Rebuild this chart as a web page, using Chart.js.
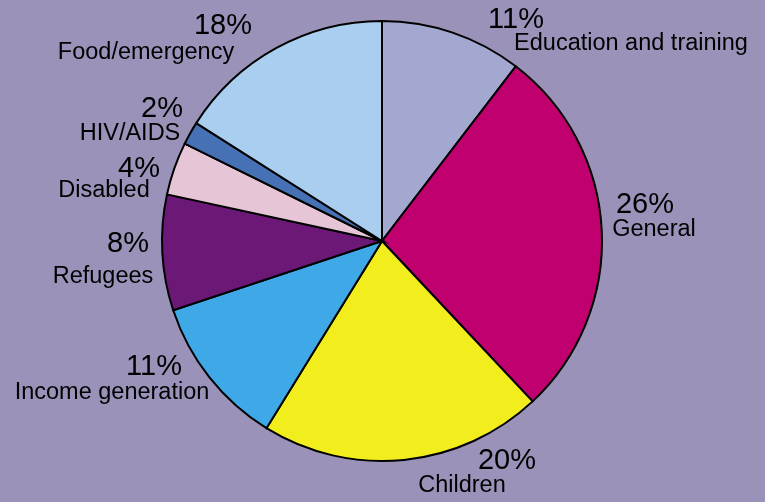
<!DOCTYPE html>
<html>
<head>
<meta charset="utf-8">
<script src="https://cdn.jsdelivr.net/npm/chart.js@4"></script>
<style>
  html, body { margin: 0; padding: 0; background: #9a92b9; }
  #wrap { width: 765px; height: 502px; position: relative; }
</style>
</head>
<body>
<div id="wrap"><canvas id="c" width="765" height="502"></canvas></div>
<script>
// Categories (clockwise from 12 o'clock)
const categories = ["Education and training", "General", "Children", "Income generation",
                    "Refugees", "Disabled", "HIV/AIDS", "Food/emergency"];
// Slice shares as drawn in the picture
const shares = [10.4, 27.6, 20.8, 11.1, 8.5, 3.9, 1.7, 16.0];
// Percentage labels as printed
const percentLabels = ["11%", "26%", "20%", "11%", "8%", "4%", "2%", "18%"];

const sliceColors = ["#a3a8d0", "#c0006f", "#f2ee1e", "#3fa8e6",
                     "#6c1876", "#e6c5d6", "#4671b5", "#a9cef0"];

// label anchor points (centres): [pctX, pctY(baseline), nameX, nameY(baseline)]
const labelPos = [
  [516, 28, 631, 50],
  [645, 213, 654, 236],
  [507, 469, 462, 492],
  [154, 375, 112, 399],
  [128, 252, 103, 283],
  [139, 177, 104, 197],
  [162, 117, 130, 140],
  [223, 34, 146, 59]
];

const labelPlugin = {
  id: 'sliceLabels',
  afterDraw(chart) {
    const ctx = chart.ctx;
    ctx.save();
    ctx.fillStyle = '#000';
    ctx.textAlign = 'center';
    ctx.textBaseline = 'alphabetic';
    categories.forEach((name, i) => {
      const p = labelPos[i];
      ctx.font = '29px "Liberation Sans", Arial, sans-serif';
      ctx.fillText(percentLabels[i], p[0], p[1]);
      ctx.font = '23.5px "Liberation Sans", Arial, sans-serif';
      ctx.fillText(name, p[2], p[3]);
    });
    ctx.restore();
  }
};

new Chart(document.getElementById('c'), {
  type: 'pie',
  data: {
    labels: categories,
    datasets: [{
      data: shares,
      backgroundColor: sliceColors,
      borderColor: '#000000',
      borderWidth: 2,
      borderJoinStyle: 'miter'
    }]
  },
  options: {
    responsive: false,
    animation: false,
    layout: { padding: { top: 20, bottom: 40, left: 0, right: 1 } },
    plugins: {
      legend: { display: false },
      tooltip: { enabled: false }
    }
  },
  plugins: [labelPlugin]
});
</script>
</body>
</html>
